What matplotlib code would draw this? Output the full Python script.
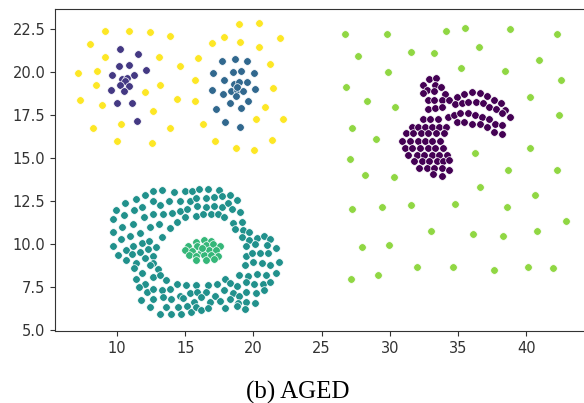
import numpy as np
import matplotlib
matplotlib.use("Agg")
import matplotlib.pyplot as plt

# cluster 0: crescent / wing shape (dark purple)
c0_x = [32.84, 33.36, 32.40, 33.31, 32.75, 33.24, 33.72, 32.45, 34.04, 32.77, 33.26, 33.80, 32.82, 33.31, 33.85,
        34.90, 35.46, 36.05, 36.63, 37.15, 37.66, 38.15, 38.44,
        34.34, 34.78, 35.27, 35.75, 36.29, 36.81, 37.30, 37.76, 38.20, 38.81,
        34.24, 34.73, 35.17, 35.71, 36.24, 36.78, 37.27, 37.71, 38.25,
        34.90, 35.46, 36.05, 36.63, 37.12, 37.66, 38.20,
        32.45, 32.97, 33.50,
        31.60, 32.09, 32.58, 33.06, 33.60, 34.09,
        31.16, 31.72, 32.28, 32.82, 33.36, 33.94,
        30.91, 31.47, 32.04, 32.58, 33.11, 33.68,
        31.11, 31.65, 32.23, 32.77, 33.31, 33.92,
        31.35, 31.96, 32.53, 33.06, 33.60, 34.19,
        31.79, 32.35, 32.90, 33.44, 33.90, 34.37,
        32.14, 32.70, 33.26, 33.80, 34.34,
        33.19, 33.80]
c0_y = [19.61, 19.65, 19.22, 19.24, 18.95, 18.90, 19.11, 18.78, 18.74, 18.35, 18.39, 18.39, 17.83, 17.87, 17.93,
        18.55, 18.74, 18.82, 18.78, 18.62, 18.39, 18.16, 17.77,
        18.35, 18.12, 18.18, 18.24, 18.24, 18.16, 17.98, 17.85, 17.62, 17.36,
        17.38, 17.50, 17.58, 17.58, 17.50, 17.38, 17.23, 16.99, 16.92,
        17.07, 17.07, 16.99, 16.96, 16.80, 16.49, 16.41,
        17.25, 17.25, 17.25,
        16.82, 16.82, 16.82, 16.82, 16.82, 16.82,
        16.43, 16.43, 16.43, 16.43, 16.43, 16.43,
        15.99, 15.99, 15.99, 15.99, 15.99, 15.99,
        15.56, 15.56, 15.56, 15.56, 15.56, 15.56,
        15.17, 15.17, 15.17, 15.17, 15.17, 15.17,
        14.79, 14.79, 14.79, 14.79, 14.79, 14.85,
        14.40, 14.40, 14.40, 14.40, 14.30,
        14.05, 13.97]

# cluster 1: left blob (indigo)
c1_x = [10.20, 11.57, 10.17, 10.88, 12.10, 9.61, 11.22, 10.39, 10.76, 10.59, 10.25, 10.91, 9.56, 10.54, 10.00, 11.13, 11.47]
c1_y = [21.30, 21.03, 20.31, 20.37, 20.08, 19.83, 19.83, 19.59, 19.63, 19.46, 19.22, 19.17, 18.93, 18.91, 18.18, 18.18, 17.17]

# cluster 2: right blob (blue)
c2_x = [17.73, 18.64, 19.52, 17.02, 18.47, 19.08, 20.05, 17.83, 18.56, 18.93, 19.52, 16.97, 17.78,
        18.39, 18.76, 19.22, 18.71, 20.08, 18.30, 19.61, 19.08, 17.27, 17.88, 18.98, 18.83]
c2_y = [20.60, 20.76, 20.60, 19.92, 19.98, 20.02, 19.96, 19.55, 19.30, 19.40, 19.38, 18.95, 18.72,
        18.90, 18.97, 18.88, 18.62, 19.01, 18.16, 18.28, 17.87, 17.83, 17.07, 16.82, 19.11]

# cluster 3: ring (teal)
c3_x = [12.64, 13.30, 14.16, 14.99, 15.53, 16.04, 16.70, 17.46,
        11.37, 12.03, 15.33, 15.82, 16.51, 17.12, 17.68, 18.27,
        10.59, 12.60, 13.16, 13.82, 14.60, 15.87, 16.51, 17.10, 17.68, 18.17, 18.78,
        9.95, 11.23, 11.86, 14.01, 14.58, 15.14, 15.77, 16.31, 16.90, 17.41, 17.85, 18.42, 19.05,
        9.71, 10.54, 11.96, 12.64, 13.38, 14.36, 14.99, 18.51, 19.17,
        9.71, 10.39, 11.18, 12.40, 13.06, 13.87, 18.64, 19.25, 19.69,
        10.32, 10.93, 11.67, 13.26, 19.15, 19.64, 20.23, 20.76, 21.23,
        9.71, 11.18, 11.86, 12.35, 12.89, 19.49, 20.10, 20.96, 21.64,
        10.05, 10.64, 11.08, 11.67, 12.28, 12.64, 19.44, 19.86, 20.47, 21.08,
        10.69, 11.42, 12.06, 12.64, 19.35, 19.98, 20.62, 21.25, 21.89,
        11.27, 11.86, 12.40, 13.01, 18.95, 19.61, 20.23, 20.91, 21.69,
        11.42, 12.06, 12.60, 13.18, 13.62, 14.36, 15.04, 15.79, 16.69, 17.35, 17.92,
        18.27, 18.81, 19.44, 20.03, 20.67, 21.25,
        11.62, 12.20, 12.64, 13.26, 13.87, 14.60, 15.33, 15.87, 16.51, 17.17, 17.83, 18.51, 18.95, 19.49, 20.18, 20.79,
        11.79, 12.64, 13.38, 13.96, 14.85, 15.65, 16.19, 16.80, 17.58, 18.27, 18.86, 19.49, 20.13,
        12.40, 13.16, 13.62, 13.94, 14.45, 14.67, 15.14, 15.43, 15.82, 16.19, 16.68, 17.90, 18.76, 19.35]
c3_y = [13.10, 13.14, 13.04, 13.06, 13.08, 13.20, 13.20, 13.12,
        12.62, 12.83, 12.52, 12.67, 12.69, 12.73, 12.79, 12.83,
        12.36, 12.48, 12.27, 12.48, 12.48, 12.21, 12.15, 12.19, 12.17, 12.36, 12.54,
        11.96, 11.96, 12.15, 11.78, 11.92, 12.02, 11.65, 11.73, 11.74, 11.73, 11.55, 12.00, 11.88,
        11.43, 11.67, 11.57, 11.74, 11.73, 11.26, 11.59, 11.24, 11.30,
        10.68, 10.97, 11.14, 10.97, 11.16, 10.91, 10.87, 10.81, 10.72,
        10.29, 10.48, 10.62, 10.39, 10.43, 10.23, 10.33, 10.47, 10.27,
        9.90, 9.88, 10.06, 10.19, 9.83, 9.85, 9.98, 9.94, 9.79,
        9.36, 9.65, 9.40, 9.52, 9.71, 9.30, 9.30, 9.50, 9.48, 9.50,
        9.05, 8.90, 9.19, 8.88, 8.78, 8.94, 8.88, 8.78, 8.94,
        8.59, 8.30, 8.76, 8.53, 8.20, 8.14, 8.28, 8.20, 8.33,
        7.97, 7.70, 8.10, 8.20, 7.89, 7.66, 7.62, 7.62, 7.62, 7.70, 7.95,
        7.71, 7.54, 7.77, 7.66, 7.66, 7.81,
        7.50, 7.19, 7.40, 7.33, 7.40, 6.99, 7.13, 7.23, 7.19, 6.99, 7.33, 7.15, 6.98, 7.23, 7.13, 7.33,
        6.75, 6.80, 6.94, 6.80, 6.84, 6.65, 6.92, 6.61, 6.69, 6.80, 6.55, 6.65, 6.55,
        6.36, 5.95, 6.36, 5.91, 6.36, 5.95, 6.40, 6.03, 6.36, 6.16, 6.30, 6.30, 6.42, 6.22]

# cluster 4: centre of the ring (green)
c4_x = [15.77, 16.34, 16.90, 15.21, 15.87, 16.51, 17.05, 17.53, 14.97, 15.53, 16.12,
        16.75, 17.29, 15.28, 15.82, 16.39, 16.92, 17.41, 15.82, 16.51, 17.09, 16.26]
c4_y = [10.14, 10.23, 10.19, 9.90, 9.90, 9.94, 9.98, 9.90, 9.65, 9.61, 9.55,
        9.65, 9.63, 9.36, 9.30, 9.36, 9.36, 9.32, 9.07, 9.09, 9.13, 9.75]

# cluster 5: scattered background on the right (lime)
c5_x = [26.75, 29.81, 34.13, 35.55, 38.85, 42.27, 27.68, 31.56, 33.22, 36.56, 40.93, 29.86, 35.22,
        38.42, 42.54, 26.78, 28.33, 30.38, 40.27, 42.43, 27.24, 29.02, 27.10, 40.30, 36.28, 28.20,
        30.33, 38.69, 42.24, 36.61, 40.68, 27.24, 29.43, 31.56, 34.78, 38.58, 42.90, 33.03, 36.09,
        38.33, 40.79, 27.98, 29.95, 31.97, 34.67, 37.62, 40.14, 41.94, 27.13, 29.15]
c5_y = [22.21, 22.21, 22.40, 22.56, 22.46, 22.21, 20.93, 21.16, 21.07, 21.45, 20.70, 20.00, 20.25,
        20.06, 19.50, 19.11, 18.33, 17.93, 18.51, 17.50, 16.76, 16.07, 14.92, 15.56, 15.31, 14.03,
        13.91, 14.32, 14.32, 13.28, 12.87, 12.02, 12.13, 12.29, 12.34, 12.17, 11.34, 10.74, 10.58,
        10.48, 10.74, 9.84, 9.94, 8.68, 8.64, 8.49, 8.64, 8.59, 7.95, 8.20]

# cluster 6: scattered background on the left (yellow)
c6_x = [7.10, 7.30, 7.98, 8.20, 8.44, 8.50, 8.91, 9.13, 9.15, 10.03, 10.30, 10.87, 12.05, 12.43,
        12.54, 12.60, 13.11, 13.17, 13.85, 13.91, 14.43, 14.62, 15.68, 15.71, 15.90, 16.28, 16.94,
        17.16, 17.84, 18.69, 18.96, 19.04, 20.05, 20.16, 20.38, 20.41, 20.85, 21.23, 21.37, 21.42,
        21.94, 22.16]
c6_y = [19.96, 18.37, 21.61, 16.72, 19.26, 20.06, 18.06, 22.40, 20.85, 15.97, 16.96, 22.40, 18.82, 22.34,
        15.87, 17.71, 20.85, 19.26, 16.76, 22.11, 18.43, 20.35, 19.52, 18.31, 20.81, 16.98, 21.65,
        15.97, 22.02, 15.56, 22.75, 21.76, 15.47, 17.27, 21.47, 22.81, 17.97, 20.47, 16.03, 19.07,
        21.96, 17.23]

clusters = [(c0_x, c0_y), (c1_x, c1_y), (c2_x, c2_y), (c3_x, c3_y),
            (c4_x, c4_y), (c5_x, c5_y), (c6_x, c6_y)]
colors = plt.cm.viridis(np.linspace(0, 1, len(clusters)))

fig = plt.figure(figsize=(5.84, 4.03), dpi=100)
ax = fig.add_axes([55 / 584, 72 / 403, 535 / 584, 322 / 403])

for (xs, ys), col in zip(clusters, colors):
    ax.scatter(xs, ys, s=30, color=col, edgecolors='white', linewidths=0.5)

ax.set_xlim(5.45, 44.68)
ax.set_ylim(4.94, 23.65)
ax.set_xticks([10, 15, 20, 25, 30, 35, 40])
ax.set_yticks([5.0, 7.5, 10.0, 12.5, 15.0, 17.5, 20.0, 22.5])
ax.tick_params(labelsize=10.5, colors='#333333')
for sp in ax.spines.values():
    sp.set_color('#333333')

fig.text(0.509, 0.01, "(b) AGED", ha='center', va='baseline',
         family='Liberation Serif', fontsize=18)

fig.savefig("out.png", dpi=100)
